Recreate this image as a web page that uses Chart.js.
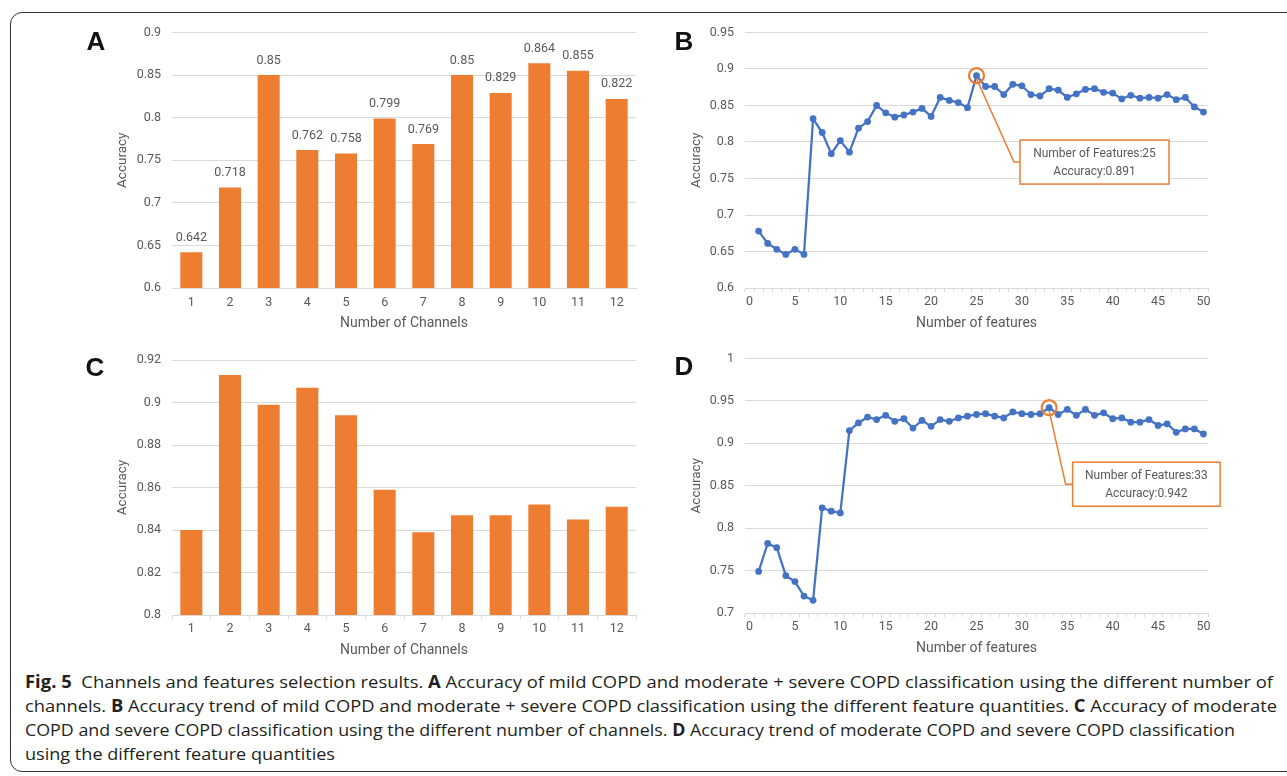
<!DOCTYPE html>
<html>
<head>
<meta charset="utf-8">
<script src="https://cdn.jsdelivr.net/npm/chart.js@4.4.1/dist/chart.umd.min.js"></script>
<style>
  body { margin: 0; width: 1287px; height: 776px; overflow: hidden; position: relative; background: #fff; }
  .frame { position: absolute; left: 10px; top: 12px; width: 1320px; height: 760px; border: 1.3px solid #333; border-radius: 12px; box-sizing: border-box; }
  .box { position: absolute; }
  .letter { position: absolute; font: bold 26px "Liberation Sans", Arial, sans-serif; line-height: 26px; color: #111; transform: translateX(-50%); }
  .caption { position: absolute; left: 25px; top: 670px; font-family: "Open Sans", sans-serif; font-size: 17px; line-height: 24px; color: #231f20; white-space: nowrap; }
  .caption .ln { display: block; height: 24px; }
  .caption .ln span { display: inline-block; transform-origin: 0 0; }
  .caption b { font-weight: 700; }
</style>
</head>
<body>
<div class="frame"></div>

<div class="box" style="left:100px; top:14px; width:550px; height:326px;"><canvas id="chartA"></canvas></div>
<div class="box" style="left:670px; top:14px; width:560px; height:326px;"><canvas id="chartB"></canvas></div>
<div class="box" style="left:100px; top:340px; width:550px; height:322px;"><canvas id="chartC"></canvas></div>
<div class="box" style="left:670px; top:340px; width:560px; height:322px;"><canvas id="chartD"></canvas></div>

<div class="letter" style="left:96px; top:28px;">A</div>
<div class="letter" style="left:684px; top:28px;">B</div>
<div class="letter" style="left:95px; top:354px;">C</div>
<div class="letter" style="left:684px; top:353px;">D</div>

<div class="caption" id="caption">
  <div class="ln"><span data-w="1248"><b>Fig. 5</b>&nbsp; Channels and features selection results. <b>A</b> Accuracy of mild COPD and moderate + severe COPD classification using the different number of</span></div>
  <div class="ln"><span data-w="1252">channels. <b>B</b> Accuracy trend of mild COPD and moderate + severe COPD classification using the different feature quantities. <b>C</b> Accuracy of moderate</span></div>
  <div class="ln"><span data-w="1210">COPD and severe COPD classification using the different number of channels. <b>D</b> Accuracy trend of moderate COPD and severe COPD classification</span></div>
  <div class="ln"><span data-w="310">using the different feature quantities</span></div>
</div>

<script>
// categorias e valores
const channelLabels = ['1', '2', '3', '4', '5', '6', '7', '8', '9', '10', '11', '12'];
const accChannelsA = [0.642, 0.718, 0.85, 0.762, 0.758, 0.799, 0.769, 0.85, 0.829, 0.864, 0.855, 0.822];
const accChannelsC = [0.84, 0.913, 0.899, 0.907, 0.894, 0.859, 0.839, 0.847, 0.847, 0.852, 0.845, 0.851];

// eixo x dos gráficos de linha: 0..50
const featureLabels = [];
for (let i = 0; i <= 50; i++) featureLabels.push(String(i));

// acurácia para 1..50 features
const accFeaturesB = [
    0.678, 0.661, 0.653, 0.646, 0.653, 0.646, 0.832, 0.813, 0.784, 0.802,
    0.786, 0.819, 0.828, 0.850, 0.840, 0.834, 0.837, 0.841, 0.846, 0.835,
    0.861, 0.857, 0.854, 0.847, 0.891, 0.876, 0.876, 0.865, 0.879, 0.877,
    0.865, 0.863, 0.873, 0.871, 0.861, 0.866, 0.872, 0.873, 0.868, 0.867,
    0.859, 0.864, 0.860, 0.861, 0.860, 0.865, 0.858, 0.861, 0.848, 0.841
];
const accFeaturesD = [
    0.749, 0.782, 0.777, 0.744, 0.737, 0.720, 0.715, 0.824, 0.820, 0.818,
    0.915, 0.924, 0.931, 0.928, 0.933, 0.926, 0.929, 0.918, 0.927, 0.920,
    0.928, 0.926, 0.930, 0.932, 0.934, 0.935, 0.932, 0.930, 0.937, 0.935,
    0.934, 0.935, 0.942, 0.934, 0.940, 0.933, 0.940, 0.933, 0.936, 0.929,
    0.930, 0.925, 0.925, 0.928, 0.921, 0.923, 0.913, 0.917, 0.917, 0.911
];

// marcas do eixo y
const yTicksA = [0.6, 0.65, 0.7, 0.75, 0.8, 0.85, 0.9];
const yTicksB = [0.6, 0.65, 0.7, 0.75, 0.8, 0.85, 0.9, 0.95];
const yTicksC = [0.8, 0.82, 0.84, 0.86, 0.88, 0.9, 0.92];
const yTicksD = [0.7, 0.75, 0.8, 0.85, 0.9, 0.95, 1];

const ORANGE = '#ED7D31';
const BLUE = '#4472C4';
const GRID = '#D9D9D9';
const TEXT = '#595959';
const FONT = 'Roboto';

// rótulos de valor em cima das barras (gráfico A)
const barValueLabels = {
    id: 'barValueLabels',
    afterDatasetsDraw(chart, args, opts) {
        if (!opts || !opts.show) return;
        const ctx = chart.ctx;
        const values = chart.data.datasets[0].data;
        ctx.save();
        ctx.font = '12.5px ' + FONT;
        ctx.fillStyle = TEXT;
        ctx.textAlign = 'center';
        ctx.textBaseline = 'alphabetic';
        chart.getDatasetMeta(0).data.forEach((bar, i) => {
            ctx.fillText(String(values[i]), bar.x, bar.y - 11.5);
        });
        ctx.restore();
    }
};

// círculo no melhor ponto + caixa com o texto
const bestPointCallout = {
    id: 'bestPointCallout',
    afterDatasetsDraw(chart, args, opts) {
        if (!opts || !opts.show) return;
        const values = chart.data.datasets[0].data;
        let best = -1;
        values.forEach((v, i) => {
            if (v != null && (best < 0 || v > values[best])) best = i;
        });
        const x = chart.scales.x.getPixelForValue(best);
        const y = chart.scales.y.getPixelForValue(values[best]);
        const bx = x + opts.dx;
        const by = y + opts.dy;
        const ctx = chart.ctx;
        ctx.save();
        ctx.strokeStyle = ORANGE;
        ctx.lineWidth = 1.5;
        ctx.beginPath();
        ctx.moveTo(x, y + 3);
        ctx.lineTo(bx - opts.elbow, by + opts.h / 2);
        ctx.lineTo(bx, by + opts.h / 2);
        ctx.stroke();
        ctx.fillStyle = '#fff';
        ctx.fillRect(bx, by, opts.w, opts.h);
        ctx.strokeRect(bx, by, opts.w, opts.h);
        ctx.lineWidth = 2.2;
        ctx.beginPath();
        ctx.arc(x, y, 7.5, 0, Math.PI * 2);
        ctx.stroke();
        ctx.font = '12px ' + FONT;
        ctx.fillStyle = TEXT;
        ctx.textAlign = 'center';
        ctx.textBaseline = 'middle';
        ctx.fillText('Number of Features:' + chart.data.labels[best], bx + opts.w / 2, by + 13.5);
        ctx.fillText('Accuracy:' + values[best], bx + opts.w / 2, by + 31.5);
        ctx.restore();
    }
};

function yScale(ticks, axisWidth, titlePad) {
    return {
        min: ticks[0],
        max: ticks[ticks.length - 1],
        afterBuildTicks: s => { s.ticks = ticks.map(v => ({ value: v })); },
        afterFit: s => { s.width = axisWidth; },
        grid: { color: GRID, lineWidth: 1, drawTicks: false },
        border: { display: false },
        ticks: {
            color: TEXT, padding: 11, font: { family: FONT, size: 12.5 },
            callback: v => String(+v.toFixed(3))
        },
        title: {
            display: true, text: 'Accuracy', color: TEXT,
            font: { family: FONT, size: 13.5 }, padding: { top: titlePad, bottom: 0 }
        }
    };
}

function xTitle(text, padBottom) {
    return {
        display: true, text: text, color: TEXT,
        font: { family: FONT, size: 14 }, padding: { top: 0, bottom: padBottom }
    };
}

function makeBarChart(id, values, yTicks, opts) {
    const ctx = document.getElementById(id).getContext('2d');
    return new Chart(ctx, {
        type: 'bar',
        data: {
            labels: channelLabels,
            datasets: [{
                data: values,
                backgroundColor: ORANGE,
                categoryPercentage: 1,
                barPercentage: 0.57
            }]
        },
        plugins: [barValueLabels],
        options: {
            responsive: false,
            animation: false,
            layout: { padding: { left: 0, right: 14, top: opts.top, bottom: 0 } },
            plugins: {
                legend: { display: false },
                tooltip: { enabled: false },
                barValueLabels: { show: opts.labels }
            },
            scales: {
                x: {
                    afterFit: s => { s.height = opts.xHeight; },
                    grid: {
                        display: true, drawOnChartArea: false, offset: true,
                        drawTicks: opts.tickMarks, tickLength: 4, color: GRID
                    },
                    border: { display: true, color: GRID, width: 1 },
                    ticks: { color: TEXT, padding: opts.tickPad, font: { family: FONT, size: 12.5 }, maxRotation: 0 },
                    title: xTitle('Number of Channels', opts.titlePad)
                },
                y: yScale(yTicks, 72, 15)
            }
        }
    });
}

function makeLineChart(id, values, yTicks, opts) {
    const ctx = document.getElementById(id).getContext('2d');
    return new Chart(ctx, {
        type: 'line',
        data: {
            labels: featureLabels,
            datasets: [{
                data: [null].concat(values),
                borderColor: BLUE,
                backgroundColor: BLUE,
                borderWidth: 2.25,
                pointRadius: 3.4,
                pointBorderWidth: 0,
                pointBackgroundColor: BLUE,
                tension: 0
            }]
        },
        plugins: [bestPointCallout],
        options: {
            responsive: false,
            animation: false,
            layout: { padding: { left: 0, right: 22, top: opts.top, bottom: 0 } },
            plugins: {
                legend: { display: false },
                tooltip: { enabled: false },
                bestPointCallout: opts.callout
            },
            scales: {
                x: {
                    type: 'category',
                    offset: true,
                    afterFit: s => { s.height = opts.xHeight; },
                    grid: {
                        display: true, drawOnChartArea: false, offset: true,
                        drawTicks: true, tickLength: 4, color: GRID
                    },
                    border: { display: true, color: GRID, width: 1 },
                    ticks: {
                        color: TEXT, padding: 2, autoSkip: false, maxRotation: 0,
                        font: { family: FONT, size: 12.5 },
                        callback: (v, i) => (i % 5 === 0 ? featureLabels[i] : '')
                    },
                    title: xTitle('Number of features', opts.titlePad)
                },
                y: yScale(yTicks, 75, 18.5)
            }
        }
    });
}

function sizeCanvas(id, w, h) {
    const c = document.getElementById(id);
    c.width = w; c.height = h;
    c.style.width = w + 'px'; c.style.height = h + 'px';
}

function drawAll() {
    sizeCanvas('chartA', 550, 326);
    sizeCanvas('chartB', 560, 326);
    sizeCanvas('chartC', 550, 322);
    sizeCanvas('chartD', 560, 322);

    makeBarChart('chartA', accChannelsA, yTicksA,
        { top: 0, xHeight: 52, tickMarks: false, tickPad: 7, titlePad: 8.6, labels: true });
    makeBarChart('chartC', accChannelsC, yTicksC,
        { top: 20, xHeight: 47, tickMarks: true, tickPad: 2, titlePad: 3.6, labels: false });

    makeLineChart('chartB', accFeaturesB, yTicksB, {
        top: 0, xHeight: 52, titlePad: 8.6,
        callout: { show: true, dx: 43.5, dy: 64.5, w: 149, h: 44, elbow: 6 }
    });
    makeLineChart('chartD', accFeaturesD, yTicksD, {
        top: 17, xHeight: 49, titlePad: 5.6,
        callout: { show: true, dx: 23.5, dy: 54.5, w: 147.5, h: 44, elbow: 7 }
    });

    // cada linha da legenda com a largura da figura original
    document.querySelectorAll('.caption .ln span').forEach(span => {
        const w = span.getBoundingClientRect().width;
        const target = parseFloat(span.getAttribute('data-w'));
        if (w > 0) span.style.transform = 'scaleX(' + (target / w) + ')';
    });
}

document.addEventListener('DOMContentLoaded', function() {
    if (document.fonts && document.fonts.ready) {
        document.fonts.ready.then(drawAll);
    } else {
        drawAll();
    }
});
</script>
</body>
</html>
